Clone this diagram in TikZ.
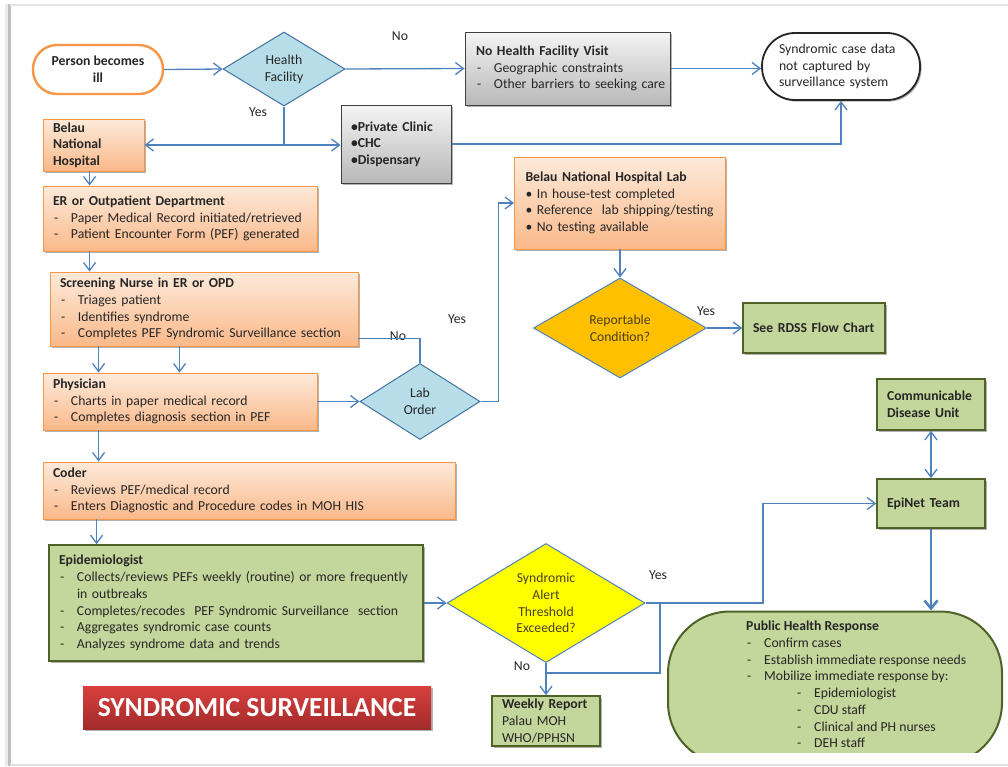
\documentclass[tikz,border=0pt]{standalone}
\usepackage{fontspec}
\setmainfont{Carlito}
\usetikzlibrary{arrows.meta,shapes.geometric,shadows,calc}

\definecolor{ink}{HTML}{262626}
\definecolor{link}{HTML}{4F81BD}
\definecolor{orgline}{HTML}{F79646}
\definecolor{orgtop}{HTML}{FDEADA}
\definecolor{orgbot}{HTML}{FAB98A}
\definecolor{grytop}{HTML}{F4F4F4}
\definecolor{grybot}{HTML}{B8B8B8}
\definecolor{gryline}{HTML}{404040}
\definecolor{grnfill}{HTML}{C3D69B}
\definecolor{grnline}{HTML}{4F6228}
\definecolor{aqua}{HTML}{B7DEE8}
\definecolor{aqualine}{HTML}{41729F}
\definecolor{gold}{HTML}{FFC000}
\definecolor{lemon}{HTML}{FFFF00}
\definecolor{qtext}{HTML}{4A4020}
\definecolor{redtop}{HTML}{D8403E}
\definecolor{redbot}{HTML}{A32B2A}

% list items: a dash, then the text on a fixed indent
\newcommand{\dl}[1]{\mbox{\hspace*{1pt}\makebox[17pt][l]{-}#1}}
\newcommand{\sdl}[1]{\mbox{\hspace*{51pt}\makebox[17pt][l]{-}#1}}

\begin{document}
\begin{tikzpicture}[x=1pt,y=-1pt,
  txt/.style={font=\fontsize{13.7}{16.7}\selectfont, text=ink},
  boldtxt/.style={font=\fontsize{13.7}{16.7}\selectfont\bfseries, text=ink},
  dshadow/.style={drop shadow={shadow xshift=1.6pt, shadow yshift=-1.6pt, opacity=0.3, fill=black}},
  orgbox/.style={txt, dshadow, rectangle, draw=orgline, line width=0.9pt, top color=orgtop, bottom color=orgbot, align=left, inner xsep=10pt, inner ysep=0pt},
  grybox/.style={txt, dshadow, rectangle, draw=gryline, line width=1pt, top color=grytop, bottom color=grybot, align=left, inner xsep=10pt, inner ysep=0pt},
  grnbox/.style={txt, dshadow, rectangle, draw=grnline, line width=1.6pt, fill=grnfill, align=left, inner xsep=10pt, inner ysep=0pt},
  dia/.style={txt, diamond, inner sep=0pt, align=center, line width=1pt},
  lbl/.style={txt, inner sep=0pt},
  conn/.style={draw=link, line width=1.3pt},
  arr/.style={conn, -{Straight Barb[length=8pt,width=12pt]}},
]
\useasboundingbox (0,0) rectangle (1008,766);

% page edges
\fill[black!8] (5,4) rectangle (8,766);
\fill[black!25] (8,4) rectangle (11,766);
\draw[black!10, line width=2pt] (10,5) -- (1008,5);
\draw[black!12, line width=1.5pt] (10,765) -- (1008,765);

% ---- entry ----
\node[boldtxt, rectangle, rounded corners=24pt, draw=orgline, line width=2.4pt, fill=white,
      minimum width=130pt, minimum height=49pt, align=center] (ill) at (98,69.5) {Person becomes\\ill};
\node[dia, draw=aqualine, fill=aqua, minimum width=122pt, minimum height=74pt] (hf) at (284,69) {Health\\Facility};

\node[grybox, minimum width=205pt, minimum height=73pt, text width=183pt, inner xsep=11pt] (nohfv) at (567.5,68.5)
  {\textbf{No Health Facility Visit}\\\dl{Geographic constraints}\\\dl{Other barriers to seeking care}};

\node[txt, dshadow, rectangle, rounded corners=33pt, draw=ink, line width=1.8pt, fill=white,
      minimum width=158pt, minimum height=67pt, text width=124pt, inner xsep=17pt, align=left] (notcap) at (841,66.5)
  {Syndromic case data\\not captured by\\surveillance system};

\node[orgbox, boldtxt, minimum width=101pt, minimum height=52pt, text width=81pt] (bnh) at (93.5,145) {Belau\\National\\Hospital};
\node[grybox, boldtxt, minimum width=110pt, minimum height=78pt, text width=90pt] (priv) at (396,144) {•Private Clinic\\•CHC\\•Dispensary};

% ---- hospital pathway ----
\node[orgbox, minimum width=274pt, minimum height=65pt, text width=254pt] (er) at (180,218.5)
  {\textbf{ER or Outpatient Department}\\\dl{Paper Medical Record initiated/retrieved}\\\dl{Patient Encounter Form (PEF) generated}};
\node[orgbox, minimum width=308pt, minimum height=74pt, text width=288pt] (scr) at (204,309)
  {\textbf{Screening Nurse in ER or OPD}\\\dl{Triages patient}\\\dl{Identifies syndrome}\\\dl{Completes PEF Syndromic Surveillance section}};
\node[orgbox, minimum width=274pt, minimum height=57pt, text width=254pt] (phys) at (180,401.5)
  {\textbf{Physician}\\\dl{Charts in paper medical record}\\\dl{Completes diagnosis section in PEF}};
\node[dia, draw=aqualine, fill=aqua, minimum width=120pt, minimum height=76pt] (lab) at (420,401.5) {Lab\\Order};

\node[orgbox, minimum width=211pt, minimum height=92pt, text width=189pt, inner xsep=11pt] (bnhlab) at (620,203)
  {\textbf{Belau National Hospital Lab}\\• In house-test completed\\• Reference\ \ lab shipping/testing\\• No testing available};
\node[dia, draw=link, fill=gold, text=qtext, minimum width=173pt, minimum height=100pt] (rep) at (620,328) {Reportable\\Condition?};
\node[grnbox, boldtxt, minimum width=142pt, minimum height=50pt, text width=122pt] (rdss) at (814,328) {See RDSS Flow Chart};

\node[grnbox, boldtxt, minimum width=108pt, minimum height=51pt, text width=88pt] (cdu) at (931,404.5) {Communicable\\Disease Unit};
\node[grnbox, boldtxt, minimum width=108pt, minimum height=49pt, text width=88pt] (epinet) at (931,503.5) {EpiNet Team};

\node[orgbox, minimum width=412pt, minimum height=57pt, text width=392pt] (coder) at (249,490.5)
  {\textbf{Coder}\\\dl{Reviews PEF/medical record}\\\dl{Enters Diagnostic and Procedure codes in MOH HIS}};
\node[grnbox, minimum width=374pt, minimum height=116pt, text width=354pt] (epi) at (236,603)
  {\textbf{Epidemiologist}\\\dl{Collects/reviews PEFs weekly (routine) or more frequently}\\\hspace*{18pt}in outbreaks\\
   \dl{Completes/recodes\ \ PEF Syndromic Surveillance\ \ section}\\\dl{Aggregates syndromic case counts}\\\dl{Analyzes syndrome data and trends}};

\node[dia, draw=link, fill=lemon, text=qtext, minimum width=198pt, minimum height=99pt] (alert) at (546,603)
  {Syndromic\\Alert\\Threshold\\Exceeded?};
\node[grnbox, minimum width=108pt, minimum height=50pt, text width=88pt] (weekly) at (546,721)
  {\textbf{Weekly Report}\\Palau MOH\\WHO/PPHSN};

% public health response, running off the lower edge
\begin{scope}
  \clip (0,0) rectangle (1008,752);
  \node[rectangle, rounded corners=62pt, draw=grnline, line width=2pt, fill=grnfill,
        minimum width=334pt, minimum height=153pt] (phr) at (835,688) {};
\end{scope}
\node[txt, anchor=north west, inner sep=0pt, align=left] (phrt) at (746,621)
  {\textbf{Public Health Response}\\\dl{Confirm cases}\\\dl{Establish immediate response needs}\\\dl{Mobilize immediate response by:}\\
   \sdl{Epidemiologist}\\\sdl{CDU staff}\\\sdl{Clinical and PH nurses}\\\sdl{DEH staff}};

% title banner
\node[dshadow, font=\fontsize{27.6}{30}\selectfont\bfseries, text=white, top color=redtop, bottom color=redbot,
      minimum width=348pt, minimum height=43pt, inner sep=0pt] (banner) at (257,707.5) {SYNDROMIC SURVEILLANCE};

% branch labels
\node[lbl] (lno1) at (400,36) {No};
\node[lbl] (lyes1) at (258,112) {Yes};
\node[lbl] (lno2) at (398,336) {No};
\node[lbl] (lyes2) at (457,319) {Yes};
\node[lbl] (lyes3) at (706,311) {Yes};
\node[lbl] (lyes4) at (658,575) {Yes};
\node[lbl] (lno3) at (522,666) {No};

% ---- connectors ----
\draw[arr] (ill.east) -- (hf.west);
\draw[arr] (hf.east) -- (nohfv.west);
\draw[arr] (nohfv.east) -- (nohfv.east -| notcap.west);
\coordinate (split) at (284,145);
\draw[conn] (hf.south) -- (split);
\draw[arr] (split) -- (split -| bnh.east);
\draw[arr] (split) -- (split -| priv.west);
\draw[arr] (priv.east) -| (notcap.south);

\draw[arr] ([xshift=47pt]bnh.south west) -- ([xshift=47pt]bnh.south west |- er.north);
\draw[arr] ([xshift=47pt]er.south west) -- ([xshift=47pt]er.south west |- scr.north);
\draw[arr] ([xshift=49pt]scr.south west) -- ([xshift=49pt]scr.south west |- phys.north);
\draw[arr] ([xshift=130pt]scr.south west) -- ([xshift=130pt]scr.south west |- phys.north);
\draw[conn] ([yshift=8pt]scr.south east) -| (lab.north);
\draw[arr] (phys.east) -- (lab.west);
\draw[arr] (lab.east) -- ++(18,0) |- (bnhlab.west);
\draw[arr] (bnhlab.south) -- (rep.north);
\draw[arr] (rep.east) -- (rdss.west);
\draw[conn, {Straight Barb[length=8pt,width=12pt]}-{Straight Barb[length=8pt,width=12pt]}] (cdu.south) -- (epinet.north);

\draw[arr] ([xshift=56pt]phys.south west) -- ([xshift=56pt]phys.south west |- coder.north);
\draw[arr] ([xshift=54pt]coder.south west) -- ([xshift=54pt]coder.south west |- epi.north);
\draw[arr] (epi.east) -- (alert.west);
\coordinate (bend) at (763,603);
\draw[arr] (alert.east) -- (bend) |- (epinet.west);
\coordinate (tap) at (660,603);
\coordinate (join) at (546,673);
\draw[conn] (tap) |- (join);
\draw[arr] (alert.south) -- (weekly.north);
\draw[conn, line width=2.6pt, -{Straight Barb[length=8pt,width=13pt]}] (epinet.south) -- (epinet.south |- phr.north);
\end{tikzpicture}
\end{document}
